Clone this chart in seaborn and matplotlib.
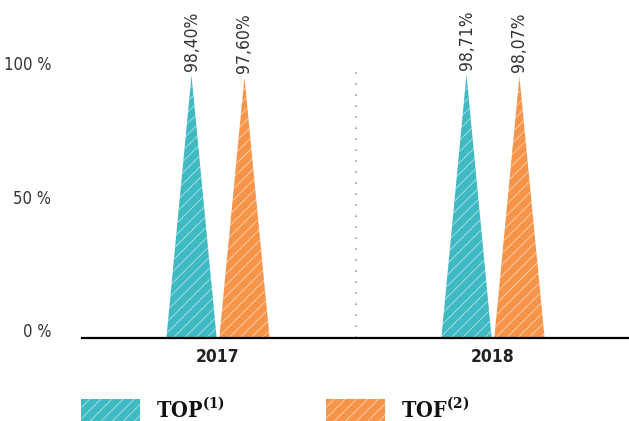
import matplotlib
matplotlib.use('Agg')
import matplotlib.pyplot as plt
import matplotlib.patches as mpatches
import matplotlib.transforms as mtransforms
import pandas as pd
import seaborn as sns

# data
years = ['2017', '2018']
series = ['TOP', 'TOF']
top_values = [98.40, 98.71]
tof_values = [97.60, 98.07]
legend_labels = [r'TOP$^{\mathbf{(1)}}$', r'TOF$^{\mathbf{(2)}}$']
yticks = [0, 50, 100]
ytick_labels = ['0 %', '50 %', '100 %']

colors = ['#3fbac3', '#f6954a']
hatch_col = (1, 1, 1, 0.7)

df = pd.DataFrame({
    'year': years * 2,
    'series': [series[0]] * len(years) + [series[1]] * len(years),
    'value': top_values + tof_values,
})

sns.set_theme(style='white')
plt.rcParams['font.family'] = ['DejaVu Sans']
plt.rcParams['font.stretch'] = 'condensed'
plt.rcParams['mathtext.fontset'] = 'dejavuserif'
plt.rcParams['hatch.linewidth'] = 0.5

fig = plt.figure(figsize=(6.29, 4.21), dpi=100)
ax = fig.add_axes([82 / 629, 1 - 338 / 421, 546 / 629, 323 / 421])

sns.barplot(data=df, x='year', y='value', hue='series', order=years,
            hue_order=series, palette=colors, saturation=1, width=0.385,
            gap=0.05, legend=False, ax=ax)

# turn each bar into a hatched triangle
for rect in list(ax.patches):
    x0, w, h = rect.get_x(), rect.get_width(), rect.get_height()
    fc = rect.get_facecolor()
    rect.remove()
    tri = mpatches.Polygon([(x0, 0), (x0 + w / 2, h), (x0 + w, 0)], closed=True,
                           facecolor=fc, edgecolor=hatch_col, linewidth=0,
                           hatch='///')
    ax.add_patch(tri)
    ax.annotate(f'{h:.2f}%'.replace('.', ','), (x0 + w / 2, h),
                xytext=(0, 3), textcoords='offset points', rotation=90,
                ha='center', va='bottom', fontsize=12.5, color='#333333')

ax.set_xlim(-0.4945, 1.491)
ax.set_ylim(0, 121)
ax.set_yticks(yticks)
ax.set_yticklabels(ytick_labels)
ax.set_xlabel('')
ax.set_ylabel('')

# dotted divider between the two years
ax.plot([0.502, 0.502], [0, 99.5], linestyle=(0, (1, 5.6)), color='#999999',
        linewidth=1.2)

sns.despine(ax=ax, left=True)
ax.spines['bottom'].set_color('black')
ax.spines['bottom'].set_linewidth(1.6)
ax.tick_params(axis='y', length=0, pad=22, labelsize=12, labelcolor='#333333')
ax.tick_params(axis='x', length=0, pad=7, labelsize=12.5, labelcolor='#222222')
for lab in ax.get_xticklabels():
    lab.set_fontweight('bold')
shift = mtransforms.ScaledTranslation(0, 8 / 100, fig.dpi_scale_trans)
for lab in ax.get_yticklabels():
    lab.set_transform(lab.get_transform() + shift)

handles = [mpatches.Patch(facecolor=c, edgecolor=hatch_col, linewidth=0, hatch='///')
           for c in colors]
leg = fig.legend(handles, legend_labels, loc='upper left',
                 bbox_to_anchor=(81 / 629, 1 - 397 / 421), ncol=2, frameon=False,
                 borderpad=0, borderaxespad=0, handlelength=2.75, handleheight=1.2,
                 handletextpad=0.72, columnspacing=4.7,
                 prop={'family': 'DejaVu Serif', 'weight': 'bold', 'size': 15.5})
for t in leg.get_texts():
    t.set_color('#111111')

fig.savefig('out.png', dpi=100)
